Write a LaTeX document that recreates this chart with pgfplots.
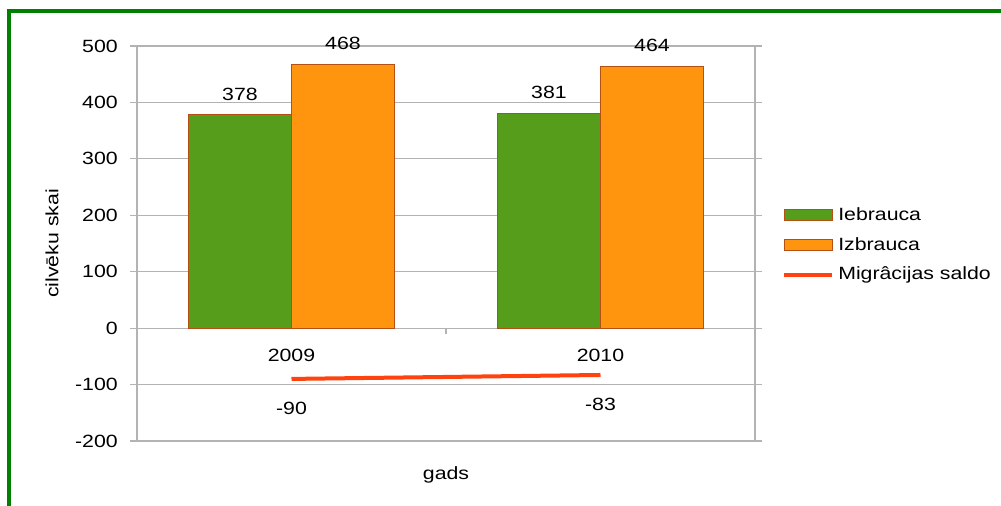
\documentclass[border=0pt]{standalone}
\usepackage{fontspec}
\setmainfont{Liberation Sans}[FakeStretch=1.2]
\usepackage{pgfplots}
\pgfplotsset{compat=1.18}
\definecolor{barGreen}{RGB}{87,157,28}
\definecolor{barOrange}{RGB}{255,149,14}
\definecolor{barEdge}{RGB}{180,80,20}
\definecolor{lineRed}{RGB}{255,66,14}
\definecolor{frameGreen}{RGB}{0,128,0}
\definecolor{axGray}{RGB}{179,179,179}
\begin{document}
\begin{tikzpicture}[font=\fontsize{13.3pt}{16pt}\selectfont]
\useasboundingbox (0pt,0pt) rectangle (750.75pt,-379.5pt);
\begin{scope}
\clip (0pt,0pt) rectangle (750.75pt,-379.5pt);
\draw[frameGreen, line width=3.2pt] (6.5pt,-385pt) -- (6.5pt,-8.5pt) -- (760pt,-8.5pt);
\end{scope}
\begin{axis}[
  scale only axis,
  width=463.5pt, height=296.25pt,
  at={(102.75pt,-330.75pt)}, anchor=south west,
  xmin=-0.5, xmax=1.5,
  ymin=-200, ymax=500,
  ytick={-200,-100,0,100,200,300,400,500},
  xtick={0,1},
  xticklabels={2009,2010},
  /pgf/number format/assume math mode=true,
  axis line style={draw=axGray, line width=0.8pt},
  ymajorgrids,
  grid style={draw=axGray, line width=0.8pt},
  major y tick style={draw=axGray, line width=0.8pt},
  major x tick style={draw=none},
  tick align=outside,
  major tick length=5.25pt,
  yticklabel style={anchor=east, inner sep=0pt, xshift=-9pt},
  xticklabel style={anchor=center, inner sep=0pt, yshift=69.75pt},
  xlabel={gads},
  ylabel={cilvēku skai},
  xlabel style={at={(axis description cs:0.5,0)}, anchor=center, yshift=-25.5pt, inner sep=0pt},
  ylabel style={at={(axis description cs:-0.1375,0.5)}, anchor=center, inner sep=0pt},
  legend style={at={(1.0437,0.4962)}, anchor=west, draw=none, fill=none, inner sep=0pt,
    row sep=11pt, nodes={inner sep=0pt},
    /tikz/every odd column/.append style={column sep=3pt}},
  legend cell align=left,
  clip=false,
]
\addplot[ybar, bar width=77.25pt, bar shift=-38.625pt, fill=barGreen, draw=barEdge, line width=0.75pt,
  nodes near coords, nodes near coords style={anchor=south, inner sep=0pt, yshift=10.5pt, xshift=-38.625pt, text=black},
  legend image code/.code={\draw[fill=barGreen, draw=barEdge, line width=0.75pt] (0pt,-4.1pt) rectangle (36pt,4.1pt);}]
  coordinates {(0,378) (1,381)};
\addlegendentry{Iebrauca}
\addplot[ybar, bar width=77.25pt, bar shift=38.625pt, fill=barOrange, draw=barEdge, line width=0.75pt,
  nodes near coords, nodes near coords style={anchor=south, inner sep=0pt, yshift=10.5pt, xshift=38.625pt, text=black},
  legend image code/.code={\draw[fill=barOrange, draw=barEdge, line width=0.75pt] (0pt,-4.1pt) rectangle (36pt,4.1pt);}]
  coordinates {(0,468) (1,464)};
\addlegendentry{Izbrauca}
\addplot[sharp plot, draw=lineRed, line width=3pt, no marks,
  nodes near coords, nodes near coords style={anchor=north, inner sep=0pt, yshift=-16.2pt, text=black},
  legend image code/.code={\draw[lineRed, line width=3pt] (0pt,0pt) -- (36pt,0pt);}]
  coordinates {(0,-90) (1,-83)};
\addlegendentry{Migrâcijas saldo}
\draw[axGray, line width=0.8pt] (axis cs:0.5,0) -- ++(0pt,-4.5pt);
\end{axis}
\end{tikzpicture}
\end{document}
